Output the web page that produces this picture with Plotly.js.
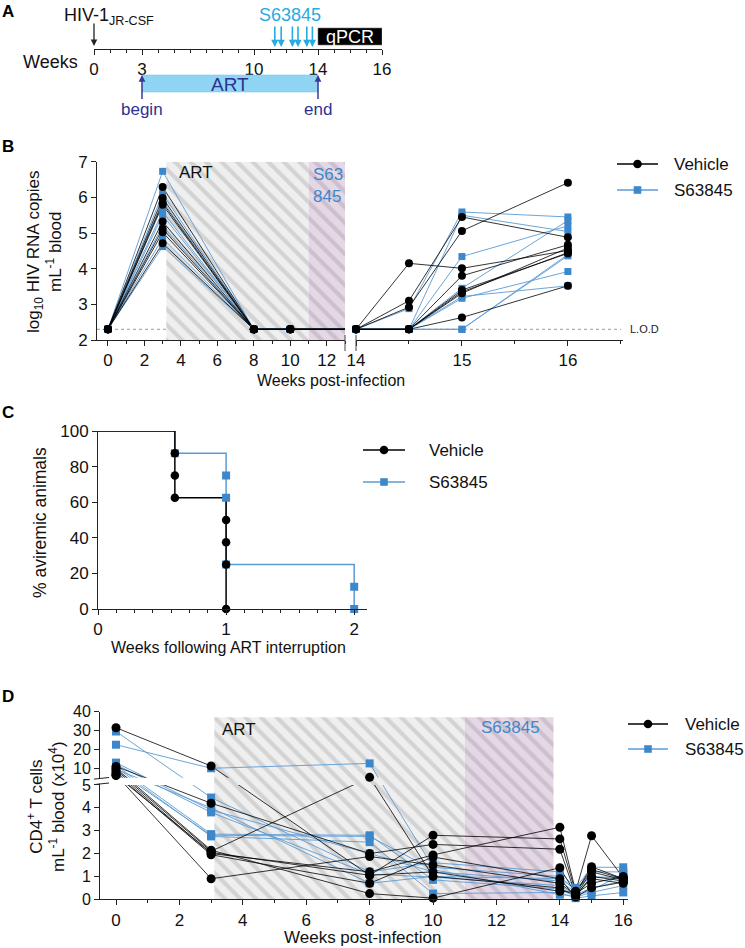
<!DOCTYPE html>
<html><head><meta charset="utf-8">
<script src="https://cdn.plot.ly/plotly-3.0.1.min.js"></script>
<style>html,body{margin:0;padding:0;background:#fff}#chart{width:745px;height:948px}</style>
</head><body><div id="chart"></div>
<script>
// ---------------- DATA ----------------
// Panel A: study timeline
const timelineTickVals = [0, 3, 10, 14, 18];
const timelineTickText = ['0', '3', '10', '14', '16'];
const artWeeks = [3, 14];
const s63845DoseWeeks = [11.3, 11.7, 12.4, 12.75, 13.3, 13.65];
const qpcrWeeks = [14, 18];

// Panel B: log10 HIV RNA copies/mL (per animal) at these weeks
const weeksB = [0, 3, 8, 10, 14, 14.5, 15, 16];
const vehicleB = [
  [2.3, 6.29, 2.3, 2.3, 2.3, 4.15, 4.01, 4.51],
  [2.3, 5.98, 2.3, 2.3, 2.3, 3.10, 5.45, 4.88],
  [2.3, 5.85, 2.3, 2.3, 2.3, 2.92, 5.06, 6.41],
  [2.3, 5.79, 2.3, 2.3, 2.3, 2.3, 3.80, 4.67],
  [2.3, 5.32, 2.3, 2.3, 2.3, 2.3, 3.40, 4.43],
  [2.3, 5.12, 2.3, 2.3, 2.3, 2.3, 3.31, 4.58],
  [2.3, 5.02, 2.3, 2.3, 2.3, 2.3, 2.63, 3.52],
  [2.3, 4.71, 2.3, 2.3, 2.3, 2.3, 3.35, 4.45]
];
const s63845B = [
  [2.3, 6.73, 2.3, 2.3, 2.3, 2.88, 5.59, 5.45],
  [2.3, 6.10, 2.3, 2.3, 2.3, 2.3, 5.50, 5.04],
  [2.3, 5.90, 2.3, 2.3, 2.3, 2.3, 4.34, 5.20],
  [2.3, 5.60, 2.3, 2.3, 2.3, 2.3, 3.17, 3.92],
  [2.3, 5.50, 2.3, 2.3, 2.3, 2.3, 3.22, 3.52],
  [2.3, 5.20, 2.3, 2.3, 2.3, 2.3, 3.45, 5.35],
  [2.3, 4.85, 2.3, 2.3, 2.3, 2.3, 2.3, 4.36],
  [2.3, 4.62, 2.3, 2.3, 2.3, 2.3, 2.3, 4.40]
];
const lodB = 2.3;
const artShadeB = [3.2, 11];
const drugShadeB = [11, 13];

// Panel C: Kaplan-Meier (% aviremic animals)
const kmVehicleT = [0, 0.6, 1];
const kmVehicleS = [100, 62.5, 0];
const kmVehicleEventT = [0.6, 0.6, 0.6, 1, 1, 1, 1];
const kmVehicleEventS = [87.5, 75, 62.5, 50, 37.5, 25, 0];
const kmDrugT = [0, 0.6, 1, 2];
const kmDrugS = [100, 87.5, 25, 0];
const kmDrugEventT = [0.6, 1, 1, 1, 2, 2];
const kmDrugEventS = [87.5, 75, 62.5, 25, 12.5, 0];

// Panel D: CD4+ T cells per mL blood (x10^4)
const weeksD = [0, 3, 8, 10, 14, 14.5, 15, 16];
const vehicleD = [
  [31.5, 11.2, 1.05, 2.8, 2.64, 0.3, 1.42, 0.9],
  [11, 4.2, 2.0, 2.4, 2.19, 0.2, 1.2, 0.85],
  [10, 2.15, 0.25, 0.05, 1.38, 0.25, 0.7, 1.0],
  [9, 2.1, 5.2, 1.0, 0.5, 0.15, 1.0, 0.8],
  [8, 2.0, 1.2, 1.94, 3.15, 0.35, 2.78, 0.95],
  [7, 1.95, 0.7, 1.85, 0.9, 0.1, 0.5, 0.75],
  [6.5, 0.9, 1.87, 1.5, 0.7, 0.2, 0.9, 0.7],
  [6.2, 2.05, 1.05, 1.2, 0.35, 0.3, 1.3, 0.9]
];
const s63845D = [
  [29.5, 4.45, 1.2, 1.6, 1.2, 0.5, 1.4, 1.4],
  [22.5, 10, 12.6, 1.4, 1.0, 0.4, 1.2, 1.2],
  [13, 3.9, 2.0, 1.2, 0.8, 0.3, 0.95, 1.0],
  [12, 3.8, 1.1, 0.97, 0.6, 0.2, 0.5, 0.8],
  [11.5, 2.85, 2.8, 0.85, 0.45, 0.1, 0.3, 0.6],
  [10.5, 2.75, 2.5, 0.25, 0.3, 0.05, 0.15, 0.3],
  [9.5, 4.0, 0.7, 1.0, 0.9, 0.45, 1.0, 0.9],
  [9, 2.8, 2.75, 1.3, 0.2, 0.15, 0.4, 1.1]
];
const artShadeD = [3.1, 11];
const drugShadeD = [11, 13.8];
const shadeTopD = 37;
const yTicksD = [0, 1, 2, 3, 4, 5, 10, 20, 30, 40];

// ---------------- HELPERS ----------------
const W = 745, H = 948;
const fx = px => px / W;
const fy = py => 1 - py / H;
const BLK = '#000', BLUE_M = '#3d87cb', BLUE_L = '#5b9bd5', DARKBLUE = '#2e3192', CYAN = '#29abe2';
const FONT = 'Liberation Sans, Arial, Helvetica, sans-serif';

// segmented y axis for panel D: 0-5 linear, then compressed 5-40
const UP_BASE = 5.317, UP_SCALE = 0.0825;
const tD = v => (v <= 5 ? v : UP_BASE + (v - 5) * UP_SCALE);

function series(weeks, animals, keep, f) {
  const xs = [], ys = [];
  animals.forEach(a => {
    weeks.forEach((w, i) => { if (keep(w)) { xs.push(w); ys.push(f ? f(a[i]) : a[i]); } });
    xs.push(null); ys.push(null);
  });
  return { x: xs, y: ys };
}
function shade(xa, ya, x0, x1, y0, y1, bg, fg, pattern) {
  const t = { type: 'scatter', xaxis: xa, yaxis: ya, x: [x0, x1, x1, x0, x0], y: [y0, y0, y1, y1, y0],
    mode: 'lines', line: { width: 0, color: 'rgba(0,0,0,0)' }, fill: 'toself', fillcolor: bg,
    hoverinfo: 'skip', showlegend: false };
  if (pattern) t.fillpattern = { shape: '\\', bgcolor: bg, fgcolor: fg, size: 11, solidity: 0.38 };
  return t;
}
function lines(xa, ya, s, color, width) {
  return { type: 'scatter', xaxis: xa, yaxis: ya, x: s.x, y: s.y, mode: 'lines',
    line: { color: color, width: width }, hoverinfo: 'skip', showlegend: false, connectgaps: false };
}
function marks(xa, ya, s, color, symbol, size) {
  return { type: 'scatter', xaxis: xa, yaxis: ya, x: s.x, y: s.y, mode: 'markers', cliponaxis: false,
    marker: { color: color, symbol: symbol, size: size, line: { width: 0 } }, hoverinfo: 'skip', showlegend: false };
}

const GRAY_BG = '#efefef', GRAY_FG = '#d3d3d3', PURP_BG = '#e5d8e5', PURP_FG = '#cdbfcd';

// ---------------- TRACES ----------------
const traces = [];
// Panel A dummy trace to create the timeline axis
traces.push({ type: 'scatter', xaxis: 'x', yaxis: 'y', x: artWeeks, y: [0.5, 0.5], mode: 'none', hoverinfo: 'skip', showlegend: false });

// Panel B
traces.push(shade('x2', 'y2', artShadeB[0], artShadeB[1], 2, 7, GRAY_BG, GRAY_FG, true));
traces.push(shade('x2', 'y2', drugShadeB[0], drugShadeB[1], 2, 7, PURP_BG, PURP_FG, true));
traces.push(lines('x2', 'y2', series(weeksB, s63845B, w => w <= 14), BLUE_L, 0.9));
traces.push(lines('x2', 'y2', series(weeksB, vehicleB, w => w <= 14), BLK, 0.8));
traces.push(lines('x3', 'y2', series(weeksB, s63845B, w => w >= 14), BLUE_L, 0.9));
traces.push(lines('x3', 'y2', series(weeksB, vehicleB, w => w >= 14), BLK, 0.8));
traces.push(marks('x2', 'y2', series(weeksB, s63845B, w => w <= 10), BLUE_M, 'square', 7));
traces.push(marks('x2', 'y2', series(weeksB, vehicleB, w => w <= 10), BLK, 'circle', 8));
traces.push(marks('x3', 'y2', series(weeksB, s63845B, w => w >= 14), BLUE_M, 'square', 7));
traces.push(marks('x3', 'y2', series(weeksB, vehicleB, w => w >= 14), BLK, 'circle', 8));

// Panel C
traces.push({ type: 'scatter', xaxis: 'x4', yaxis: 'y4', x: kmDrugT, y: kmDrugS, mode: 'lines',
  line: { shape: 'hv', color: BLUE_L, width: 1.5 }, cliponaxis: false, hoverinfo: 'skip', showlegend: false });
traces.push({ type: 'scatter', xaxis: 'x4', yaxis: 'y4', x: kmVehicleT, y: kmVehicleS, mode: 'lines',
  line: { shape: 'hv', color: BLK, width: 1.5 }, cliponaxis: false, hoverinfo: 'skip', showlegend: false });
traces.push(marks('x4', 'y4', { x: kmDrugEventT, y: kmDrugEventS }, BLUE_M, 'square', 8));
traces.push(marks('x4', 'y4', { x: kmVehicleEventT, y: kmVehicleEventS }, BLK, 'circle', 8.5));

// Panel D
const topD = tD(shadeTopD);
traces.push(shade('x5', 'y5', artShadeD[0], artShadeD[1], 0, topD, GRAY_BG, GRAY_FG, true));
traces.push(shade('x5', 'y5', drugShadeD[0], drugShadeD[1], 0, topD, PURP_BG, PURP_FG, true));
traces.push(lines('x5', 'y5', series(weeksD, s63845D, () => true, tD), BLUE_L, 0.9));
traces.push(lines('x5', 'y5', series(weeksD, vehicleD, () => true, tD), BLK, 0.8));
// white gap of the axis break across the plot (keeps hatching continuous)
traces.push(shade('x5', 'y5', -0.505, artShadeD[0], 5, UP_BASE, '#ffffff', null, false));
traces.push(shade('x5', 'y5', artShadeD[0], artShadeD[1], 5, UP_BASE, GRAY_BG, GRAY_FG, true));
traces.push(shade('x5', 'y5', drugShadeD[0], drugShadeD[1], 5, UP_BASE, PURP_BG, PURP_FG, true));
traces.push(shade('x5', 'y5', drugShadeD[1], 16.15, 5, UP_BASE, '#ffffff', null, false));
traces.push(marks('x5', 'y5', series(weeksD, s63845D, () => true, tD), BLUE_M, 'square', 8));
traces.push(marks('x5', 'y5', series(weeksD, vehicleD, () => true, tD), BLK, 'circle', 9));

// ---------------- LAYOUT ----------------
const axBase = { showline: true, linecolor: '#222', linewidth: 1, ticks: 'outside', tickcolor: '#222',
  ticklen: 5, tickwidth: 1, showgrid: false, zeroline: false, fixedrange: true,
  tickfont: { size: 17, color: '#111', family: FONT } };
const minor = (t0, dt) => ({ tickmode: 'linear', tick0: t0, dtick: dt, ticks: 'outside', ticklen: 3, tickcolor: '#222', tickwidth: 1, showgrid: false });

const layout = {
  width: W, height: H, margin: { l: 0, r: 0, t: 0, b: 0 }, paper_bgcolor: '#fff', plot_bgcolor: 'rgba(0,0,0,0)',
  showlegend: false, font: { family: FONT, color: '#111' },
  xaxis: Object.assign({}, axBase, { domain: [fx(94), fx(382)], range: [0, 18], anchor: 'y', tickmode: 'array',
    tickvals: timelineTickVals, ticktext: timelineTickText, tickfont: { size: 17, color: '#111', family: FONT }, minor: minor(0, 1) }),
  yaxis: { domain: [fy(49), fy(10)], range: [0, 1], visible: false, anchor: 'x', fixedrange: true },
  xaxis2: Object.assign({}, axBase, { domain: [fx(97), fx(345)], range: [-0.6, 13], anchor: 'y2', tickmode: 'array',
    tickvals: [0, 2, 4, 6, 8, 10, 12], minor: minor(0, 1) }),
  xaxis3: Object.assign({}, axBase, { domain: [fx(356), fx(623)], range: [14, 16.52], anchor: 'y2', tickmode: 'array',
    tickvals: [14, 15, 16], minor: minor(14, 0.5) }),
  yaxis2: Object.assign({}, axBase, { domain: [fy(340), fy(161.7)], range: [2, 7], anchor: 'x2', tickmode: 'array',
    tickvals: [2, 3, 4, 5, 6, 7] }),
  xaxis4: Object.assign({}, axBase, { domain: [fx(98), fx(367)], range: [0, 2.1], anchor: 'y4', tickmode: 'array',
    tickvals: [0, 1, 2], minor: minor(0, 1 / 7) }),
  yaxis4: Object.assign({}, axBase, { domain: [fy(609), fy(431)], range: [0, 100], anchor: 'x4', tickmode: 'array',
    tickvals: [0, 20, 40, 60, 80, 100] }),
  xaxis5: Object.assign({}, axBase, { domain: [fx(100), fx(628)], range: [-0.505, 16.15], anchor: 'y5', tickmode: 'array',
    tickvals: [0, 2, 4, 6, 8, 10, 12, 14, 16], minor: minor(0, 1) }),
  yaxis5: Object.assign({}, axBase, { domain: [fy(899.3), fy(711.7)], range: [0, tD(40)], anchor: 'x5', tickmode: 'array',
    tickvals: yTicksD.map(tD), ticktext: yTicksD.map(String), tickfont: { size: 16, color: '#111', family: FONT } }),
  shapes: [], annotations: []
};
const S = layout.shapes, A = layout.annotations;
const txt = (x, y, text, o) => Object.assign({ xref: 'paper', yref: 'paper', x: fx(x), y: fy(y), text: text, showarrow: false,
  xanchor: 'center', yanchor: 'middle', font: { size: 17, color: '#111', family: FONT } }, o || {});

// panel letters
[['A', 12], ['B', 147], ['C', 413], ['D', 696]].forEach(([l, y]) =>
  A.push(txt(8, y, '<b>' + l + '</b>', { font: { size: 17, color: '#000', family: FONT } })));

// ----- Panel A -----
A.push(txt(50, 62, 'Weeks', { font: { size: 18, color: '#111', family: FONT } }));
A.push(txt(62, 16, 'HIV-1<sub>JR-CSF</sub>', { xanchor: 'left', font: { size: 18, color: '#111', family: FONT } }));
A.push({ xref: 'x', yref: 'paper', x: 0, y: fy(46), ax: 0, ay: -24, text: '', showarrow: true,
  arrowhead: 2, arrowsize: 1, arrowwidth: 1.3, arrowcolor: '#222' });
s63845DoseWeeks.forEach(w => A.push({ xref: 'x', yref: 'paper', x: w, y: fy(47), ax: 0, ay: -22, text: '',
  showarrow: true, arrowhead: 2, arrowsize: 0.9, arrowwidth: 1.6, arrowcolor: CYAN }));
A.push({ xref: 'x', yref: 'paper', x: (s63845DoseWeeks[0] + s63845DoseWeeks[s63845DoseWeeks.length - 1]) / 2 - 0.2,
  y: fy(15), xanchor: 'center', yanchor: 'middle', text: 'S63845', showarrow: false, font: { size: 18, color: CYAN, family: FONT } });
S.push({ type: 'rect', xref: 'x', yref: 'paper', x0: qpcrWeeks[0], x1: qpcrWeeks[1], y0: fy(45), y1: fy(28),
  fillcolor: '#000', line: { color: '#777', width: 0.6 } });
A.push({ xref: 'x', yref: 'paper', x: (qpcrWeeks[0] + qpcrWeeks[1]) / 2, y: fy(37), xanchor: 'center', yanchor: 'middle',
  text: 'qPCR', showarrow: false, font: { size: 18, color: '#fff', family: FONT } });
S.push({ type: 'rect', xref: 'x', yref: 'paper', x0: artWeeks[0], x1: artWeeks[1], y0: fy(92), y1: fy(75),
  fillcolor: '#8fd4f2', line: { color: '#7fcbec', width: 0.6 } });
A.push({ xref: 'x', yref: 'paper', x: (artWeeks[0] + artWeeks[1]) / 2, y: fy(84), xanchor: 'center', yanchor: 'middle',
  text: 'ART', showarrow: false, font: { size: 19, color: DARKBLUE, family: FONT } });
[['begin', artWeeks[0]], ['end', artWeeks[1]]].forEach(([t, w]) => A.push({ xref: 'x', yref: 'paper', x: w, y: fy(75),
  ax: 0, ay: 35, text: t, showarrow: true, arrowhead: 2, arrowsize: 0.9, arrowwidth: 1.5, arrowcolor: '#3a3a9c',
  font: { size: 17, color: DARKBLUE, family: FONT } }));

// ----- Panel B -----
S.push({ type: 'line', xref: 'x2', yref: 'y2', x0: -0.6, x1: 13, y0: lodB, y1: lodB, layer: 'below',
  line: { color: '#9a9a9a', width: 1, dash: 'dot' } });
S.push({ type: 'line', xref: 'x3', yref: 'y2', x0: 14, x1: 16.5, y0: lodB, y1: lodB, layer: 'below',
  line: { color: '#9a9a9a', width: 1, dash: 'dot' } });
[345, 356].forEach(x => S.push({ type: 'line', xref: 'paper', yref: 'paper', x0: fx(x), x1: fx(x), y0: fy(335), y1: fy(351),
  line: { color: '#444', width: 1 } }));
A.push(txt(628, 329, 'L.O.D', { xanchor: 'left', font: { size: 11, color: '#222', family: FONT } }));
A.push(txt(177, 173, 'ART', { xanchor: 'left', font: { size: 17, color: '#111', family: FONT } }));
A.push(txt(311, 163, 'S63<br>845', { xanchor: 'left', yanchor: 'top', align: 'left', font: { size: 17, color: BLUE_M, family: FONT } }));
A.push(txt(331, 381, 'Weeks post-infection', { font: { size: 16, color: '#111', family: FONT } }));
A.push(txt(45, 252, 'log<sub>10</sub> HIV RNA copies<br>mL<sup>-1</sup> blood', { textangle: -90,
  font: { size: 17, color: '#111', family: FONT } }));

// legends (B, C, D)
function legend(x0, x1, yV, yS, tx) {
  const xm = (x0 + x1) / 2;
  S.push({ type: 'line', xref: 'paper', yref: 'paper', x0: fx(x0), x1: fx(x1), y0: fy(yV), y1: fy(yV), line: { color: BLK, width: 1.3 } });
  S.push({ type: 'circle', xref: 'paper', yref: 'paper', x0: fx(xm - 4.3), x1: fx(xm + 4.3), y0: fy(yV + 4.3), y1: fy(yV - 4.3),
    fillcolor: BLK, line: { width: 0 } });
  S.push({ type: 'line', xref: 'paper', yref: 'paper', x0: fx(x0), x1: fx(x1), y0: fy(yS), y1: fy(yS), line: { color: BLUE_L, width: 1.3 } });
  S.push({ type: 'rect', xref: 'paper', yref: 'paper', x0: fx(xm - 3.8), x1: fx(xm + 3.8), y0: fy(yS + 3.8), y1: fy(yS - 3.8),
    fillcolor: BLUE_M, line: { width: 0 } });
  A.push(txt(tx, yV, 'Vehicle', { xanchor: 'left' }));
  A.push(txt(tx, yS, 'S63845', { xanchor: 'left' }));
}
legend(617, 658, 164, 190, 672);
legend(363, 405, 450, 482, 427);
legend(628, 668, 724, 749, 683);

// ----- Panel C -----
A.push(txt(228, 647, 'Weeks following ART interruption', { font: { size: 16, color: '#111', family: FONT } }));
A.push(txt(40, 523, '% aviremic animals', { textangle: -90, font: { size: 17.5, color: '#111', family: FONT } }));

// ----- Panel D -----
A.push(txt(220, 729, 'ART', { xanchor: 'left', font: { size: 17, color: '#111', family: FONT } }));
A.push(txt(510, 727, 'S63845', { font: { size: 17, color: BLUE_M, family: FONT } }));
A.push(txt(362, 937, 'Weeks post-infection', { font: { size: 17, color: '#111', family: FONT } }));
A.push(txt(46, 807, 'CD4<sup>+</sup> T cells<br>mL<sup>-1</sup> blood (x10<sup>4</sup>)', { textangle: -90,
  font: { size: 17, color: '#111', family: FONT } }));
// axis break marks on the D y axis
S.push({ type: 'rect', xref: 'paper', yref: 'paper', x0: fx(96), x1: fx(104), y0: fy(783.5), y1: fy(778.8),
  fillcolor: '#fff', line: { width: 0 }, layer: 'above' });
[778.3, 783.8].forEach(y => S.push({ type: 'line', xref: 'paper', yref: 'paper', x0: fx(94), x1: fx(109),
  y0: fy(y + 0.8), y1: fy(y - 0.8), line: { color: '#222', width: 1 }, layer: 'above' }));

Plotly.newPlot('chart', traces, layout, { staticPlot: true, displayModeBar: false });
</script></body></html>
